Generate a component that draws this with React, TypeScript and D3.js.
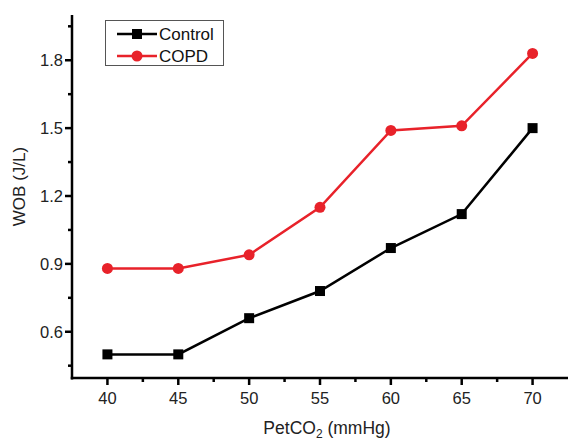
import React from "react";
import * as d3 from "d3";

const xValues = [40, 45, 50, 55, 60, 65, 70];
const controlValues = [0.5, 0.5, 0.66, 0.78, 0.97, 1.12, 1.5];
const copdValues = [0.88, 0.88, 0.94, 1.15, 1.49, 1.51, 1.83];
const xTicks = [40, 45, 50, 55, 60, 65, 70];
const xMinorTicks = [42.5, 47.5, 52.5, 57.5, 62.5, 67.5];
const yTicks = [0.6, 0.9, 1.2, 1.5, 1.8];
const yMinorTicks = [0.45, 0.75, 1.05, 1.35, 1.65, 1.95];
const seriesNames = ["Control", "COPD"];

const W = 568;
const H = 438;
const FONT = "'Liberation Sans', Arial, sans-serif";

export default function App() {
  const x = d3.scaleLinear().domain([37.5, 72.5]).range([72, 568]);
  const y = d3.scaleLinear().domain([0.4, 2.0]).range([377, 15]);
  const axisY = 378;
  const axisX = 72;

  const line = d3
    .line<[number, number]>()
    .x((d) => x(d[0]))
    .y((d) => y(d[1]));

  const controlPts: [number, number][] = xValues.map((v, i) => [v, controlValues[i]]);
  const copdPts: [number, number][] = xValues.map((v, i) => [v, copdValues[i]]);

  const black = "#000000";
  const red = "#e8222a";

  return (
    <svg
      width={W}
      height={H}
      style={{ position: "absolute", left: 0, top: 0 }}
      fontFamily={FONT}
    >
      <rect x={0} y={0} width={W} height={H} fill="#fff" />
      {/* Y axis */}
      <line x1={axisX} x2={axisX} y1={y(2.0)} y2={axisY + 1.5} stroke="#000" strokeWidth={2.5} />
      {yTicks.map((t) => (
        <g key={"yt" + t}>
          <line x1={axisX - 7} x2={axisX} y1={y(t)} y2={y(t)} stroke="#000" strokeWidth={2.5} />
          <text x={axisX - 9} y={y(t)} dy="0.36em" textAnchor="end" fontSize={16.5} fill="#222">
            {t.toFixed(1)}
          </text>
        </g>
      ))}
      {yMinorTicks.map((t) => (
        <line key={"ym" + t} x1={axisX - 4} x2={axisX} y1={y(t)} y2={y(t)} stroke="#000" strokeWidth={2.5} />
      ))}
      {/* X axis */}
      <line x1={axisX - 1.25} x2={W} y1={axisY} y2={axisY} stroke="#000" strokeWidth={2.5} />
      {xTicks.map((t) => (
        <g key={"xt" + t}>
          <line x1={x(t)} x2={x(t)} y1={axisY} y2={axisY + 7} stroke="#000" strokeWidth={2.5} />
          <text x={x(t)} y={axisY + 26} textAnchor="middle" fontSize={16.5} fill="#222">
            {t}
          </text>
        </g>
      ))}
      {xMinorTicks.map((t) => (
        <line key={"xm" + t} x1={x(t)} x2={x(t)} y1={axisY} y2={axisY + 4} stroke="#000" strokeWidth={2.5} />
      ))}
      {/* Axis titles */}
      <text
        transform={`translate(25, ${(y(2.0) + axisY) / 2 - 10}) rotate(-90)`}
        textAnchor="middle"
        fontSize={17}
        fill="#222"
      >
        WOB (J/L)
      </text>
      <text x={327} y={434} textAnchor="middle" fontSize={17.5} fill="#222">
        PetCO
        <tspan fontSize={12} dy={4}>2</tspan>
        <tspan dy={-4}> (mmHg)</tspan>
      </text>
      {/* Lines */}
      <path d={line(copdPts) || ""} fill="none" stroke={red} strokeWidth={2.5} />
      <path d={line(controlPts) || ""} fill="none" stroke={black} strokeWidth={2.5} />
      {copdPts.map((p, i) => (
        <circle key={"c" + i} cx={x(p[0])} cy={y(p[1])} r={5.5} fill={red} />
      ))}
      {controlPts.map((p, i) => (
        <rect key={"s" + i} x={x(p[0]) - 5} y={y(p[1]) - 5} width={10} height={10} fill={black} />
      ))}
      {/* Legend */}
      <rect x={105.5} y={20.5} width={118} height={45} fill="#fff" stroke="#555" strokeWidth={1} />
      <line x1={117} x2={157} y1={34} y2={34} stroke={black} strokeWidth={2.5} />
      <rect x={132} y={29} width={10} height={10} fill={black} />
      <text x={159} y={34} dy="0.36em" fontSize={17} fill="#111">{seriesNames[0]}</text>
      <line x1={117} x2={157} y1={56} y2={56} stroke={red} strokeWidth={2.5} />
      <circle cx={137} cy={56} r={5.5} fill={red} />
      <text x={159} y={56} dy="0.36em" fontSize={17} fill="#111">{seriesNames[1]}</text>
    </svg>
  );
}
